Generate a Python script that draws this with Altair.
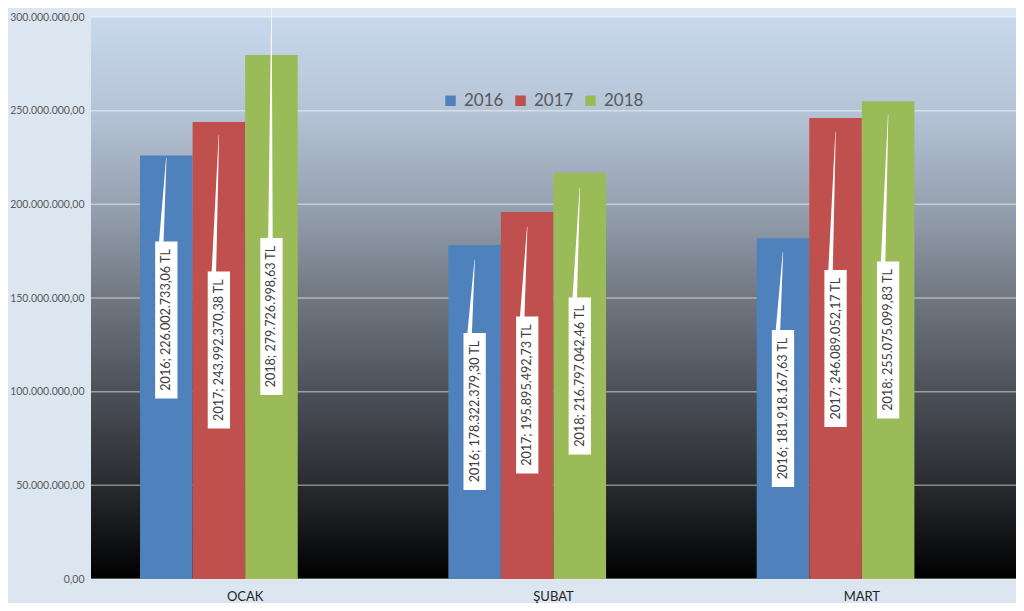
import altair as alt
import pandas as pd

# ---------------- data ----------------
categories = ["OCAK", "ŞUBAT", "MART"]
years = ["2016", "2017", "2018"]
values_2016 = [226002733.06, 178322379.30, 181918167.63]
values_2017 = [243992370.38, 195895492.73, 246089052.17]
values_2018 = [279726998.63, 216797042.46, 255075099.83]
# where each data-label box is centred (millions, value axis)
label_center_2016 = [138.3, 89.4, 91.0]
label_center_2017 = [122.2, 98.2, 123.0]
label_center_2018 = [140.1, 108.4, 127.6]
# where each callout pointer ends (millions, value axis)
pointer_tip_2016 = [224.7, 170.3, 174.6]
pointer_tip_2017 = [237.0, 187.9, 238.6]
pointer_tip_2018 = [306.0, 208.7, 247.7]
y_ticks = [0, 50e6, 100e6, 150e6, 200e6, 250e6, 300e6]

values = {"2016": values_2016, "2017": values_2017, "2018": values_2018}
centers = {"2016": label_center_2016, "2017": label_center_2017, "2018": label_center_2018}
tips = {"2016": pointer_tip_2016, "2017": pointer_tip_2017, "2018": pointer_tip_2018}
colors = ["#4f81bd", "#c0504d", "#9bbb59"]

# ---------------- layout constants ----------------
W, H = 925, 562
YMAX = 300e6
UNIT_PER_PX = YMAX / H
BOX_H = 157
PAD_INNER, PAD_OUTER = 0.318, 0.159
SLOT_PX = (W / 3) * (1 - PAD_INNER) / 4


def tr_fmt(v):
    s = f"{v:,.2f}"
    return s.replace(",", "#").replace(".", ",").replace("#", ".")


bar_rows, lab_rows, wedge_rows = [], [], []
wid = 0
for s, yr in enumerate(years):
    for c, cat in enumerate(categories):
        v = values[yr][c]
        bar_rows.append({"cat": cat, "year": yr, "value": v})
        cen = centers[yr][c] * 1e6
        lab_rows.append({"cat": cat, "year": yr, "yv": cen, "xo": s + 0.5,
                         "txt": f"{yr}; {tr_fmt(v)} TL"})
        tip = tips[yr][c] * 1e6
        base = cen + (BOX_H / 2) * UNIT_PER_PX
        shift = -1 if tip > YMAX else -5
        wedge_rows.append({"id": wid, "pt": 0, "cat": cat, "yv": base,
                           "xo": s + 0.5 + shift / SLOT_PX, "w": 4.5})
        wedge_rows.append({"id": wid, "pt": 1, "cat": cat, "yv": tip,
                           "xo": s + 0.5, "w": 0.4})
        wid += 1

bar_df = pd.DataFrame(bar_rows)
lab_df = pd.DataFrame(lab_rows)
wedge_df = pd.DataFrame(wedge_rows)
grid_df = pd.DataFrame({"tick": y_ticks})

x_enc = alt.X("cat:N", sort=categories, title=None,
              scale=alt.Scale(domain=categories, paddingInner=PAD_INNER, paddingOuter=PAD_OUTER),
              axis=alt.Axis(labelAngle=0, ticks=False, domain=False, labelFontSize=13,
                            labelFont="Lato", labelColor="#1f1f1f", labelPadding=11))
y_scale = alt.Scale(domain=[0, YMAX], nice=False, zero=True)
y_axis = alt.Axis(values=y_ticks, format=",.2f", ticks=False, domain=False,
                  labelFontSize=10.5, labelFont="Lato", labelColor="#595959",
                  labelPadding=7, grid=False)
xo_q = alt.XOffset("xo:Q", scale=alt.Scale(domain=[0, 4], nice=False, zero=False))

gradient = alt.LinearGradient(
    gradient="linear",
    stops=[
        alt.GradientStop(color="#c8d9ee", offset=0.0),
        alt.GradientStop(color="#b5c3d6", offset=0.17),
        alt.GradientStop(color="#95a0af", offset=0.34),
        alt.GradientStop(color="#707781", offset=0.5),
        alt.GradientStop(color="#4b5058", offset=0.67),
        alt.GradientStop(color="#2a2c30", offset=0.83),
        alt.GradientStop(color="#000000", offset=1.0),
    ],
    x1=0, x2=0, y1=0, y2=1,
)

panel = alt.Chart(pd.DataFrame({"a": [0]})).mark_rect(fill=gradient, strokeWidth=0).encode(
    x=alt.value(0), x2=alt.value(W), y=alt.value(0), y2=alt.value(H),
)

grid = alt.Chart(grid_df).mark_rule(color="#ffffff", opacity=0.45, strokeWidth=1.5).encode(
    y=alt.Y("tick:Q", scale=y_scale, title=None, axis=y_axis),
)

bars = alt.Chart(bar_df).mark_bar().encode(
    x=x_enc,
    xOffset=alt.XOffset("year:N", scale=alt.Scale(domain=years + ["_"], paddingInner=0, paddingOuter=0)),
    y=alt.Y("value:Q", scale=y_scale, title=None, axis=y_axis),
    color=alt.Color("year:N", scale=alt.Scale(domain=years, range=colors),
                    legend=alt.Legend(title=None, orient="none", direction="horizontal",
                                      legendX=351, legendY=75, symbolType="square",
                                      symbolSize=110, symbolStrokeWidth=0,
                                      labelFontSize=17, labelFont="Lato",
                                      labelColor="#595959", columnPadding=8,
                                      labelOffset=5, padding=0)),
)

wedges = alt.Chart(wedge_df).mark_trail(color="#ffffff", opacity=1).encode(
    x=x_enc,
    xOffset=xo_q,
    y=alt.Y("yv:Q", scale=y_scale, title=None, axis=y_axis),
    size=alt.Size("w:Q", scale=None),
    detail="id:N",
    order="pt:Q",
)

boxes = alt.Chart(lab_df).mark_point(
    shape="M-0.142,-1L0.142,-1L0.142,1L-0.142,1Z", size=BOX_H ** 2,
    filled=True, color="#ffffff", opacity=1, strokeWidth=0,
).encode(
    x=x_enc,
    xOffset=xo_q,
    y=alt.Y("yv:Q", scale=y_scale, title=None, axis=y_axis),
)

texts = alt.Chart(lab_df).mark_text(
    angle=270, font="Lato", fontSize=12.6, color="#404040", align="center", baseline="middle",
).encode(
    x=x_enc,
    xOffset=xo_q,
    y=alt.Y("yv:Q", scale=y_scale, title=None, axis=y_axis),
    text="txt:N",
)

chart = alt.layer(panel, grid, bars, wedges, boxes, texts).resolve_scale(
    xOffset="independent"
).properties(
    width=W, height=H,
    autosize=alt.AutoSizeParams(type="none"),
    padding={"left": 83, "top": 9, "right": 0, "bottom": 24},
    background="#dce6f1",
).configure_view(
    stroke="transparent",
).configure(
    locale=alt.Locale(number=alt.NumberLocale(decimal=",", thousands=".", grouping=[3],
                                              currency=["", " TL"])),
)

chart.save("out.html", embed_options={"renderer": "svg", "actions": False})
